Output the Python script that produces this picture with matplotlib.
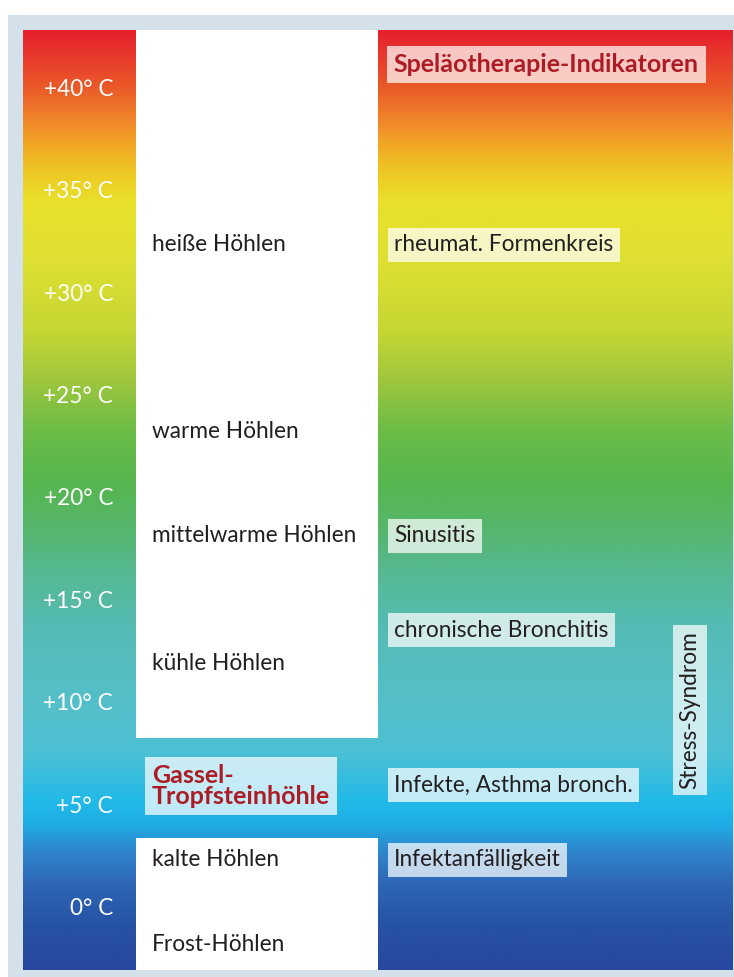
import matplotlib
matplotlib.use("Agg")
import matplotlib.pyplot as plt
import numpy as np
from matplotlib.colors import LinearSegmentedColormap
from matplotlib.patches import Rectangle

# ---------------- data ----------------
temp_values = [40, 35, 30, 25, 20, 15, 10, 5, 0]
temp_labels = ["+40° C", "+35° C", "+30° C", "+25° C", "+20° C",
               "+15° C", "+10° C", "+5° C", "0° C"]

cave_labels = ["heiße Höhlen", "warme Höhlen", "mittelwarme Höhlen",
               "kühle Höhlen", "kalte Höhlen", "Frost-Höhlen"]
cave_temps = [32.4, 23.3, 18.2, 11.95, 2.4, -1.75]

gassel_label = "Gassel-\nTropfsteinhöhle"
gassel_temp = 6.0
gassel_range = [3.46, 8.34]   # gap in white column (°C)

indicator_title = "Speläotherapie-Indikatoren"
indicator_title_temp = 41.2
indicator_labels = ["rheumat. Formenkreis", "Sinusitis", "chronische Bronchitis",
                    "Infekte, Asthma bronch.", "Infektanfälligkeit"]
indicator_temps = [32.4, 18.2, 13.6, 6.05, 2.4]

stress_label = "Stress-Syndrom"
stress_temp = 9.7

y_min, y_max = -2.98, 42.88

# gradient stops (fraction from top, colour)
grad_stops = [
    (0.000, "#e6202e"), (0.060, "#ea5a28"), (0.085, "#ef7a2a"),
    (0.118, "#f2a426"), (0.150, "#eec824"), (0.180, "#e9e02a"),
    (0.240, "#dfe032"), (0.320, "#c6d634"), (0.375, "#9cc63e"),
    (0.425, "#6cbc46"), (0.480, "#56b74e"), (0.530, "#56b66c"),
    (0.585, "#56b998"), (0.640, "#54bbb6"), (0.710, "#55bfc8"),
    (0.770, "#4cc0d4"), (0.820, "#22bae8"), (0.845, "#1eaee6"),
    (0.875, "#2f86cc"), (0.910, "#2e66b6"), (0.955, "#2752a4"),
    (1.000, "#2748a0"),
]

# ---------------- figure ----------------
W, H = 734, 977
fig = plt.figure(figsize=(W / 100, H / 100), dpi=100, facecolor="white")
bg = fig.add_axes([0, 0, 1, 1], zorder=-5)
bg.set_xlim(0, W)
bg.set_ylim(H, 0)
bg.axis("off")
bg.add_patch(Rectangle((8, 15), W - 8, H - 15, facecolor="#d5e1ea", edgecolor="none"))

ax = fig.add_axes([23 / W, 7 / H, 710 / W, 940 / H], zorder=1)
ax.set_xlim(0, 1)
ax.set_ylim(y_min, y_max)
ax.axis("off")

cmap = LinearSegmentedColormap.from_list("cave", grad_stops)
grad = np.linspace(0, 1, 512).reshape(-1, 1)
ax.imshow(grad, cmap=cmap, aspect="auto", extent=[0, 1, y_min, y_max],
          origin="upper", zorder=1, interpolation="bicubic")

# white column
col_l, col_r = 0.159, 0.5
ax.add_patch(Rectangle((col_l, gassel_range[1]), col_r - col_l, y_max - gassel_range[1],
                       facecolor="white", edgecolor="none", zorder=2))
ax.add_patch(Rectangle((col_l, y_min), col_r - col_l, gassel_range[0] - y_min,
                       facecolor="white", edgecolor="none", zorder=2))

font = "Lato"
fs = 16.3
fs_bold = 18.0
box = dict(boxstyle="square,pad=0.28", facecolor="white", alpha=0.72, edgecolor="none")

for t, lab in zip(temp_values, temp_labels):
    ax.text(0.1268, t, lab, ha="right", va="center", color="white",
            fontsize=fs, family=font, zorder=3)

for t, lab in zip(cave_temps, cave_labels):
    ax.text(0.1817, t, lab, ha="left", va="center", color="#231f20",
            fontsize=fs, family=font, zorder=3)

ax.text(0.1817, gassel_temp, gassel_label, ha="left", va="center", color="#ad1c25",
        fontsize=fs_bold, family=font, fontweight="bold", zorder=3,
        linespacing=0.92, bbox=dict(box, pad=0.22))

ax.text(0.5225, indicator_title_temp, indicator_title, ha="left", va="center",
        color="#ad1c25", fontsize=fs_bold, family=font, fontweight="bold", zorder=3,
        bbox=dict(box, pad=0.22))

for t, lab in zip(indicator_temps, indicator_labels):
    ax.text(0.5225, t, lab, ha="left", va="center", color="#231f20",
            fontsize=fs, family=font, zorder=3, bbox=box)

ax.text(0.939, stress_temp, stress_label, ha="center", va="center", rotation=90,
        color="#231f20", fontsize=fs, family=font, zorder=3, bbox=box)

fig.savefig("out.png", dpi=100, facecolor="white")
